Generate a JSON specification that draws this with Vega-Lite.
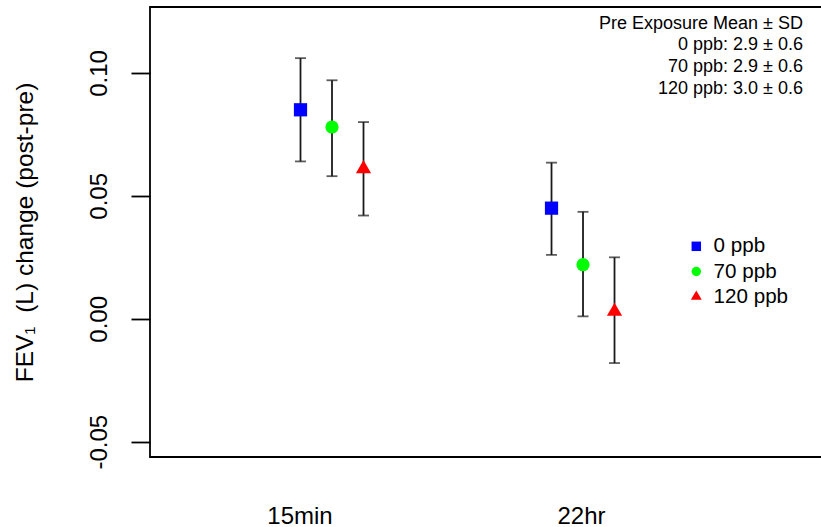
{
  "$schema": "https://vega.github.io/schema/vega-lite/v6.json",
  "width": 672,
  "height": 450,
  "autosize": {"type": "none"},
  "padding": {"left": 150, "top": 7, "right": -1, "bottom": 70},
  "background": "white",
  "config": {
    "font": "Liberation Sans",
    "view": {"stroke": "black", "strokeWidth": 1.8},
    "axis": {"grid": false}
  },
  "title": {
    "text": ["Pre Exposure Mean ± SD", "0 ppb: 2.9 ± 0.6", "70 ppb: 2.9 ± 0.6", "120 ppb: 3.0 ± 0.6"],
    "orient": "top",
    "anchor": "end",
    "frame": "group",
    "align": "right",
    "baseline": "alphabetic",
    "offset": -104.8,
    "dx": -19,
    "fontSize": 18,
    "lineHeight": 21.7,
    "fontWeight": "normal",
    "font": "Liberation Sans",
    "color": "black"
  },
  "data": {
    "values": [
      {"time": "15min", "group": "0 ppb", "mean": 0.085, "lo": 0.064, "hi": 0.106},
      {"time": "15min", "group": "70 ppb", "mean": 0.078, "lo": 0.058, "hi": 0.097},
      {"time": "15min", "group": "120 ppb", "mean": 0.061, "lo": 0.042, "hi": 0.080},
      {"time": "22hr", "group": "0 ppb", "mean": 0.045, "lo": 0.026, "hi": 0.0635},
      {"time": "22hr", "group": "70 ppb", "mean": 0.022, "lo": 0.001, "hi": 0.0435},
      {"time": "22hr", "group": "120 ppb", "mean": 0.003, "lo": -0.018, "hi": 0.025}
    ]
  },
  "encoding": {
    "x": {
      "field": "time",
      "type": "nominal",
      "scale": {"domain": ["15min", "22hr"], "paddingInner": 0, "paddingOuter": 0.3386, "align": 0.3324},
      "axis": {
        "title": null,
        "domain": false,
        "ticks": false,
        "tickSize": 0,
        "labelAngle": 0,
        "labelFontSize": 24,
        "labelColor": "black",
        "labelBaseline": "alphabetic",
        "labelPadding": 66,
        "labelOffset": {"condition": {"test": "datum.value === '15min'", "value": -32}, "value": -1.5}
      }
    },
    "xOffset": {
      "field": "group",
      "type": "nominal",
      "scale": {"domain": ["0 ppb", "70 ppb", "120 ppb"], "range": [78.25, 172.75], "paddingInner": 0, "paddingOuter": 0}
    }
  },
  "layer": [
    {
      "mark": {"type": "rule", "strokeDash": [7, 4], "strokeWidth": 1.6, "color": "black"},
      "encoding": {
        "y": {
          "datum": 0,
          "type": "quantitative",
          "scale": {"domain": [-0.0562, 0.1268], "nice": false, "zero": false},
          "axis": {
            "values": [-0.05, 0, 0.05, 0.1],
            "labelExpr": "datum.value < 0 ? '-' + format(-datum.value, '.2f') : format(datum.value, '.2f')",
            "domain": false,
            "tickSize": 19,
            "tickWidth": 1.8,
            "tickColor": "black",
            "labelAngle": 270,
            "labelAlign": "center",
            "labelBaseline": "alphabetic",
            "labelPadding": 24.7,
            "labelFontSize": 24,
            "labelColor": "black",
            "title": "FEV₁\u00a0\u00a0(L) change (post-pre)",
            "titleFontSize": 24.5,
            "titleFontWeight": "normal",
            "titleColor": "black",
            "titleBaseline": "alphabetic",
            "titleX": -118
          }
        }
      }
    },
    {
      "mark": {"type": "rule", "strokeWidth": 1.8, "color": "#1a1a1a"},
      "encoding": {
        "y": {"field": "lo", "type": "quantitative"},
        "y2": {"field": "hi"}
      }
    },
    {
      "mark": {"type": "tick", "orient": "horizontal", "size": 11, "thickness": 1.8, "color": "#1a1a1a"},
      "encoding": {"y": {"field": "hi", "type": "quantitative"}}
    },
    {
      "mark": {"type": "tick", "orient": "horizontal", "size": 11, "thickness": 1.8, "color": "#1a1a1a"},
      "encoding": {"y": {"field": "lo", "type": "quantitative"}}
    },
    {
      "mark": {"type": "point", "filled": true, "opacity": 1, "size": 175},
      "encoding": {
        "y": {"field": "mean", "type": "quantitative"},
        "color": {
          "field": "group",
          "type": "nominal",
          "scale": {"domain": ["0 ppb", "70 ppb", "120 ppb"], "range": ["#0000FF", "#00FF00", "#FF0000"]},
          "legend": {
            "title": null,
            "orient": "none",
            "legendX": 536,
            "legendY": 229,
            "padding": 0,
            "labelFontSize": 20.6,
            "labelColor": "black",
            "labelOffset": 7,
            "rowPadding": 4.2,
            "symbolSize": 90,
            "symbolStrokeWidth": 0
          }
        },
        "shape": {
          "field": "group",
          "type": "nominal",
          "scale": {"domain": ["0 ppb", "70 ppb", "120 ppb"], "range": ["square", "circle", "M-1.15,0.66L1.15,0.66L0,-1.33Z"]},
          "legend": {
            "title": null,
            "orient": "none",
            "legendX": 536,
            "legendY": 229,
            "padding": 0,
            "labelFontSize": 20.6,
            "labelColor": "black",
            "labelOffset": 7,
            "rowPadding": 4.2,
            "symbolSize": 90,
            "symbolStrokeWidth": 0
          }
        }
      }
    }
  ]
}
